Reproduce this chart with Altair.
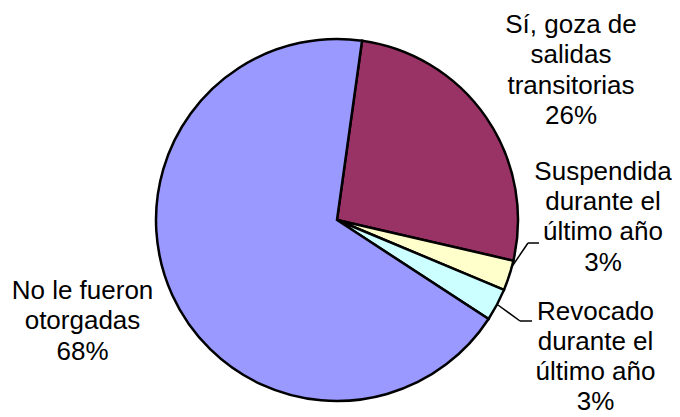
import math
import altair as alt
import pandas as pd

# ---- data ----
categories = [
    "Sí, goza de salidas transitorias",
    "Suspendida durante el último año",
    "Revocado durante el último año",
    "No le fueron otorgadas",
]
label_lines = [
    ["Sí, goza de", "salidas", "transitorias"],
    ["Suspendida", "durante el", "último año"],
    ["Revocado", "durante el", "último año"],
    ["No le fueron", "otorgadas"],
]
values = [26.4, 2.7, 2.9, 68.0]
colors = ["#993366", "#FFFFCC", "#CCFFFF", "#9999FF"]

# ---- layout (page pixels; page margin is 8px) ----
M = 8
W, H = 664, 409
CX, CY, R = 337 - M, 220 - M, 181
START = math.radians(7.95)
label_x = [571, 603, 595.5, 82.5]
label_y = [33.3, 180, 319.5, 299.3]
# leader lines: [start, elbow, end] in page pixels
leaders = [
    [(511, 268), (528, 243), (539, 243)],
    [(498, 305), (520, 321), (532, 321)],
]

df = pd.DataFrame({
    "cat": categories,
    "value": values,
    "order": list(range(len(values))),
})

lab = pd.DataFrame({
    "text": ["\n".join(lines + [f"{round(v)}%"]) for lines, v in zip(label_lines, values)],
    "lx": [x - M for x in label_x],
    "ly": [y - M for y in label_y],
})

segs = []
for pts in leaders:
    for (x1, y1), (x2, y2) in zip(pts[:-1], pts[1:]):
        segs.append({"x": x1 - M, "y": y1 - M, "x2": x2 - M, "y2": y2 - M})
seg_df = pd.DataFrame(segs)

pie = alt.Chart(df).mark_arc(outerRadius=R, stroke="black", strokeWidth=2.5).encode(
    theta=alt.Theta("value:Q", stack=True,
                    scale=alt.Scale(domain=[0, 100], range=[START, START + 2 * math.pi])),
    color=alt.Color("cat:N", scale=alt.Scale(domain=categories, range=colors), legend=None),
    order=alt.Order("order:Q"),
    x=alt.value(CX),
    y=alt.value(CY),
)

text = alt.Chart(lab).mark_text(
    font="Liberation Sans", fontSize=26, lineBreak="\n", lineHeight=30.2,
    align="center", baseline="alphabetic", color="black",
).encode(
    x=alt.X("lx:Q", scale=None, axis=None),
    y=alt.Y("ly:Q", scale=None, axis=None),
    text="text:N",
)

lines = alt.Chart(seg_df).mark_rule(color="black", strokeWidth=1.5).encode(
    x=alt.X("x:Q", scale=None, axis=None),
    y=alt.Y("y:Q", scale=None, axis=None),
    x2="x2:Q",
    y2="y2:Q",
)

chart = alt.layer(pie, lines, text).properties(
    width=W, height=H, padding=0, autosize=alt.AutoSizeParams(type="none"),
    background="white",
).configure_view(stroke=None)

chart.save("out.html", embed_options={"renderer": "svg", "actions": False})
